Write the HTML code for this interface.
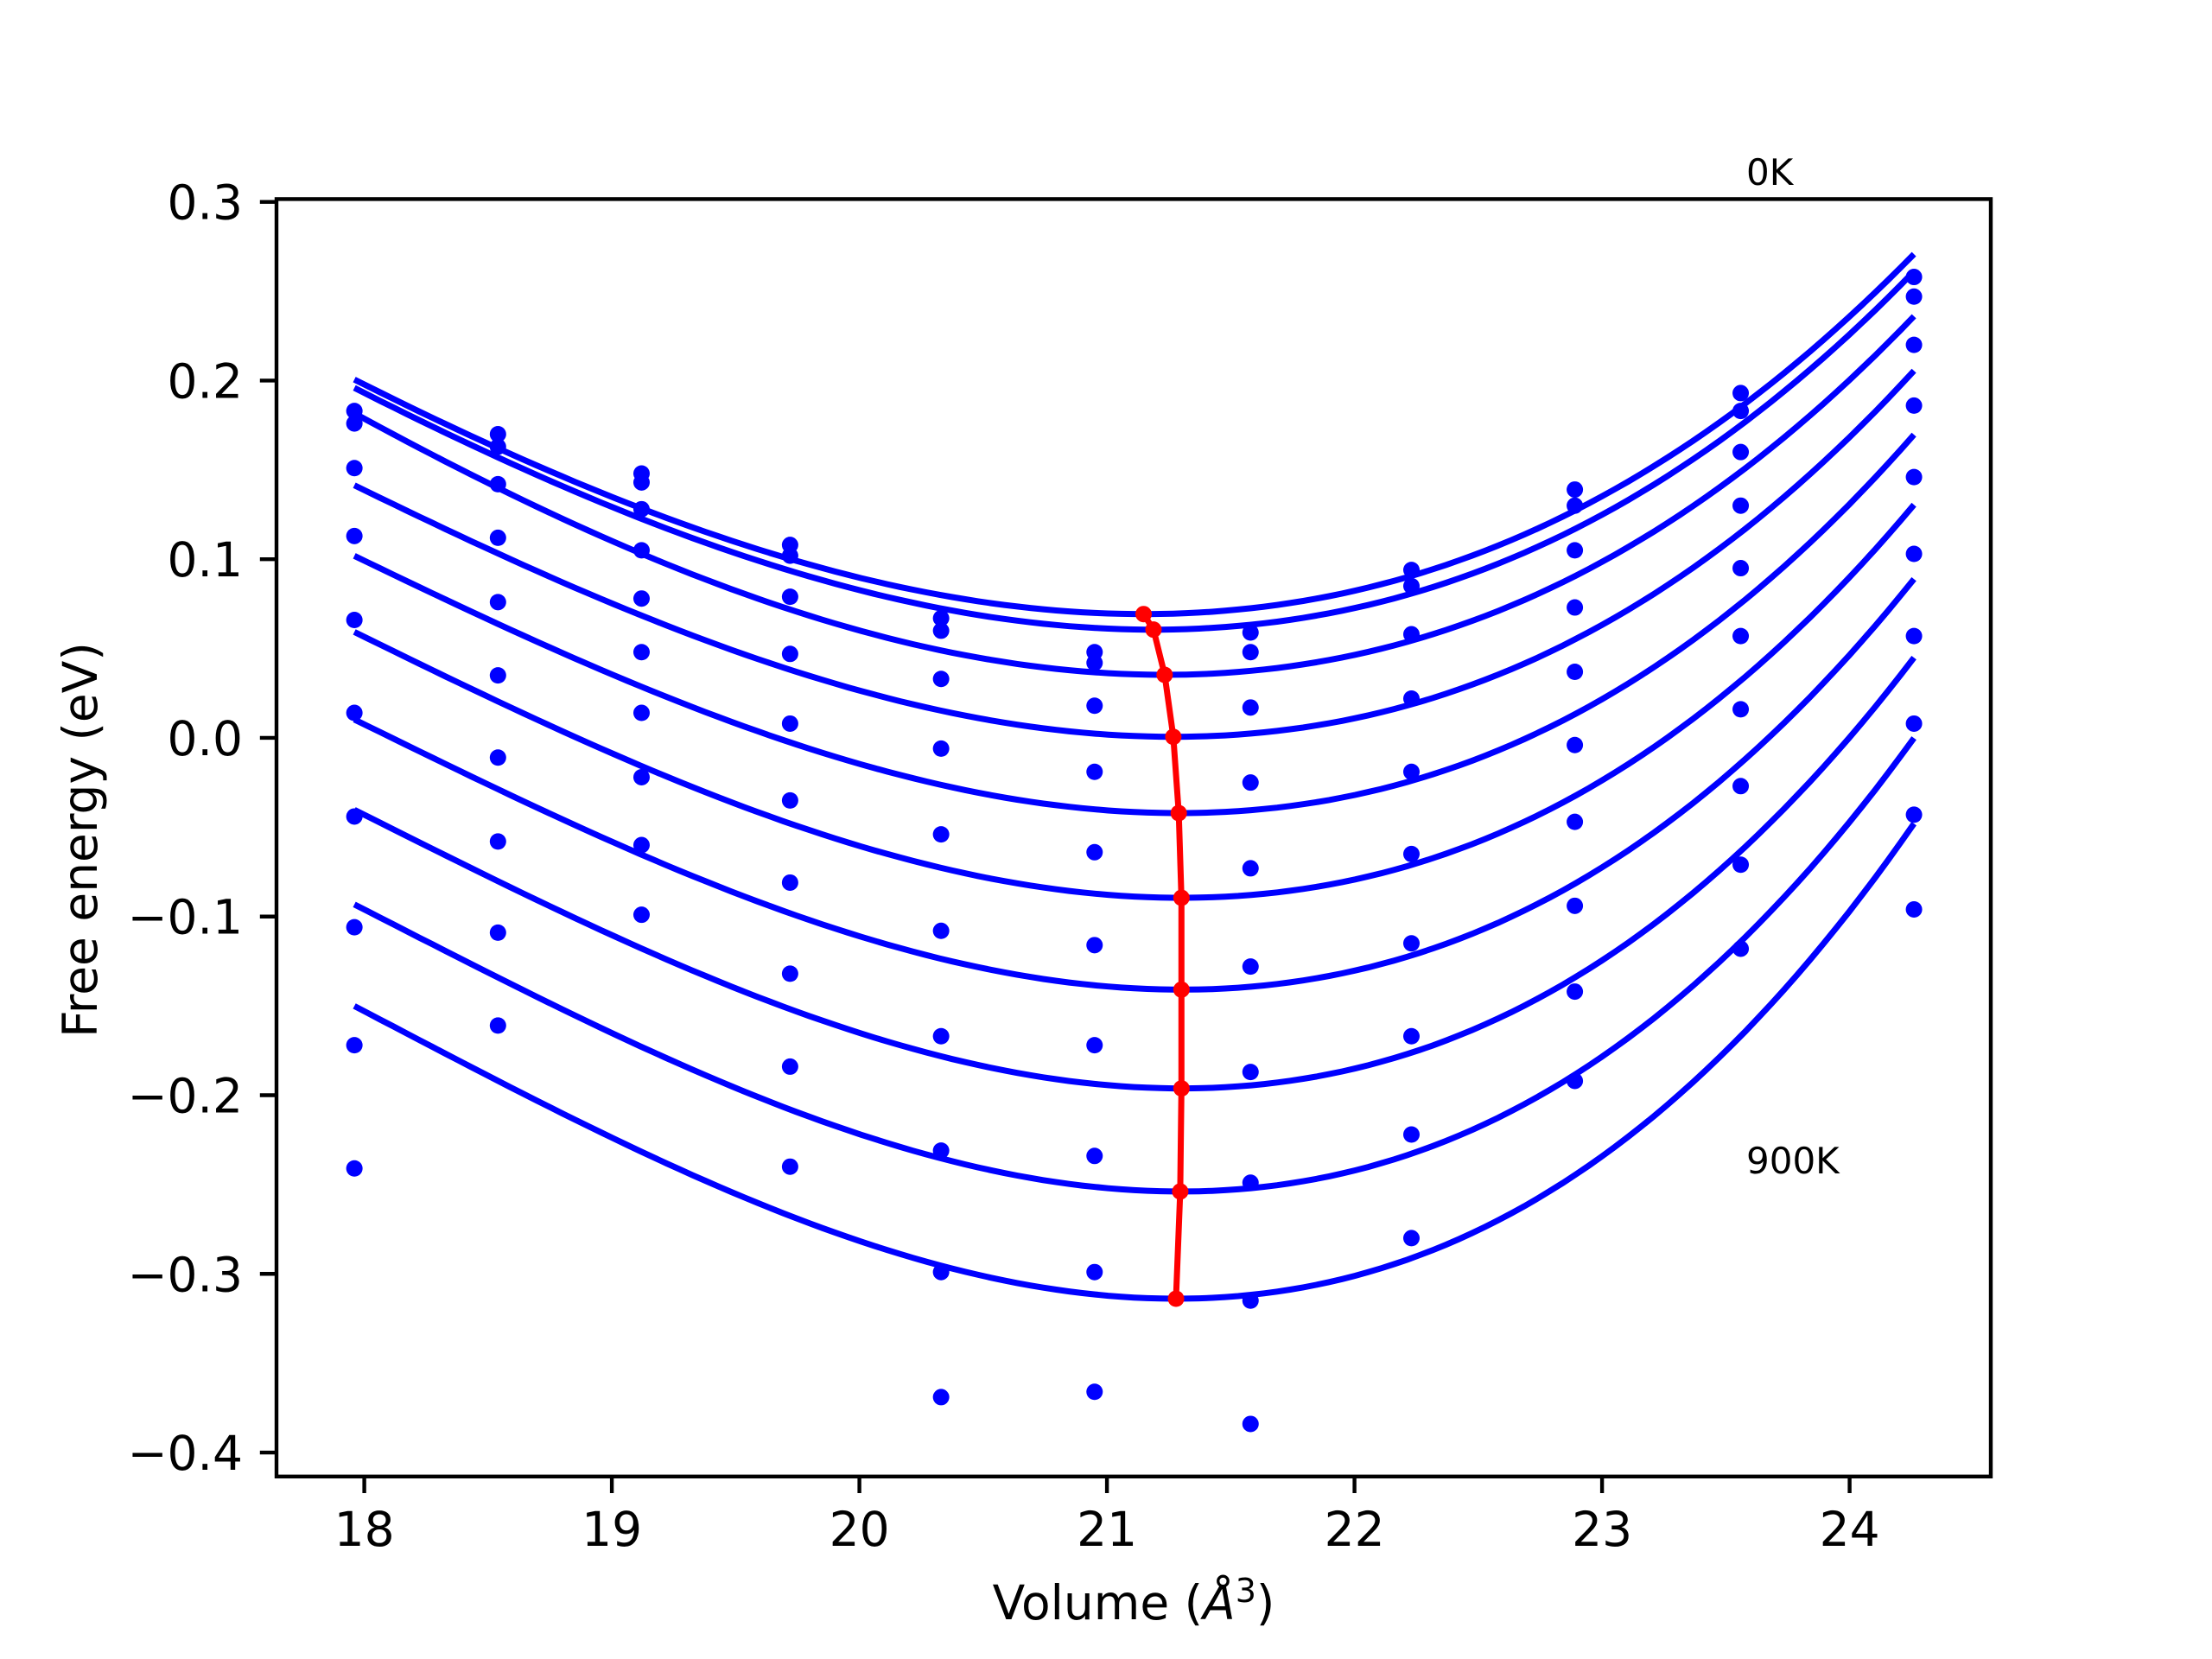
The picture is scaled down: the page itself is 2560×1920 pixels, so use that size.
<!DOCTYPE html>
<html><head><meta charset="utf-8"><style>
html,body{margin:0;padding:0;background:#fff}
svg{display:block}
text{font-family:"DejaVu Sans","Liberation Sans",sans-serif;fill:#000}
</style></head><body>
<svg id="chart" width="2560" height="1920" viewBox="0 0 2560 1920" xmlns="http://www.w3.org/2000/svg">
<rect width="2560" height="1920" fill="#fff"/>
<g id="plot"></g>
<rect x="320" y="230.4" width="1984" height="1478.4" fill="none" stroke="#000" stroke-width="4.4"/>
<g id="ticks"></g>
<text x="2021" y="214" font-size="42">0K</text>
<text x="2021" y="1358" font-size="42">900K</text>
<text x="1312" y="1874" font-size="55" text-anchor="middle">Volume (<tspan font-style="italic">Å</tspan><tspan font-size="38" dy="-20">3</tspan><tspan dy="20">)</tspan></text>
<text x="0" y="0" font-size="55" text-anchor="middle" transform="translate(112,972) rotate(-90)">Free energy (eV)</text>
</svg>
<script>
const volumes = [17.96, 18.54, 19.12, 19.72, 20.33, 20.95, 21.58, 22.23, 22.89, 23.56, 24.26];
const pointsByVolume = [
 [0.183,0.176,0.151,0.113,0.066,0.014,-0.044,-0.106,-0.172,-0.241],
 [0.170,0.163,0.142,0.112,0.076,0.035,-0.011,-0.058,-0.109,-0.161],
 [0.148,0.143,0.128,0.105,0.078,0.048,0.014,-0.022,-0.060,-0.099],
 [0.108,0.102,0.079,0.047,0.008,-0.035,-0.081,-0.132,-0.184,-0.240],
 [0.067,0.060,0.033,-0.006,-0.054,-0.108,-0.167,-0.231,-0.299,-0.369],
 [0.048,0.042,0.018,-0.019,-0.064,-0.116,-0.172,-0.234,-0.299,-0.366],
 [0.059,0.048,0.017,-0.025,-0.073,-0.128,-0.187,-0.249,-0.315,-0.384],
 [0.094,0.085,0.058,0.022,-0.019,-0.065,-0.115,-0.167,-0.222,-0.280],
 [0.139,0.130,0.105,0.073,0.037,-0.004,-0.047,-0.094,-0.142,-0.192],
 [0.193,0.183,0.160,0.130,0.095,0.057,0.016,-0.027,-0.071,-0.118],
 [0.258,0.247,0.220,0.186,0.146,0.103,0.057,0.008,-0.043,-0.096]
];
const minVolumes = [21.148,21.188,21.233,21.268,21.290,21.301,21.301,21.301,21.296,21.279];
const minEnergies = [0.0693,0.0606,0.0353,0.0006,-0.0421,-0.0895,-0.1409,-0.1962,-0.2539,-0.3139];
const curveLeftEnergies = [0.2006,0.1959,0.1817,0.1414,0.1019,0.0593,0.0103,-0.0403,-0.0932,-0.1501];
const curveRightEnergies = [0.2708,0.2611,0.2360,0.2055,0.1697,0.1305,0.0889,0.0449,-0.0001,-0.0480];
const curveRange = [17.96, 24.26];
const xTicks = [18,19,20,21,22,23,24];
const yTicks = [0.3,0.2,0.1,0.0,-0.1,-0.2,-0.3,-0.4];
const yTickLabels = ["0.3","0.2","0.1","0.0","\u22120.1","\u22120.2","\u22120.3","\u22120.4"];

const NS = "http://www.w3.org/2000/svg";
const xs = v => 421.6 + (v - 18) * 286.5;
const ys = e => 233.7 + (0.3 - e) * 2067.6;
const plot = document.getElementById('plot');
const ticks = document.getElementById('ticks');
function mk(tag, attrs, parent){const el=document.createElementNS(NS,tag);for(const k in attrs)el.setAttribute(k,attrs[k]);parent.appendChild(el);return el;}

for (let i = 0; i < minVolumes.length; i++) {
  const v0 = minVolumes[i], e0 = minEnergies[i];
  const dl = curveRange[0] - v0, dr = curveRange[1] - v0;
  const yl = curveLeftEnergies[i] - e0, yr = curveRightEnergies[i] - e0;
  const b = (yl / (dl*dl) - yr / (dr*dr)) / (dl - dr);
  const a = yl / (dl*dl) - b * dl;
  let d = "";
  const n = 120;
  for (let k = 0; k <= n; k++) {
    const v = curveRange[0] + (curveRange[1]-curveRange[0]) * k / n;
    const t = v - v0;
    const e = e0 + a*t*t + b*t*t*t;
    d += (k ? "L" : "M") + xs(v).toFixed(1) + "," + ys(e).toFixed(1);
  }
  const p = mk('path', {d: d, fill: 'none', stroke: '#0000ff', 'stroke-width': 7}, plot);
  
  
}
for (let j = 0; j < volumes.length; j++) {
  for (let i = 0; i < pointsByVolume[j].length; i++) {
    const c = mk('circle', {cx: xs(volumes[j]), cy: ys(pointsByVolume[j][i]), r: 9.5, fill: '#0000ff'}, plot);
    
    
  }
}
let md = "";
for (let i = 0; i < minVolumes.length; i++) md += (i ? "L" : "M") + xs(minVolumes[i]).toFixed(1) + "," + ys(minEnergies[i]).toFixed(1);
const ml = mk('path', {d: md, fill: 'none', stroke: '#ff0000', 'stroke-width': 7, 'stroke-linejoin': 'round'}, plot);


for (let i = 0; i < minVolumes.length; i++) {
  const c = mk('circle', {cx: xs(minVolumes[i]), cy: ys(minEnergies[i]), r: 9.5, fill: '#ff0000'}, plot);
  
  
}
xTicks.forEach(t => {
  const x = xs(t);
  const l = mk('line', {x1: x, x2: x, y1: 1708.8, y2: 1728, stroke: '#000', 'stroke-width': 4.4}, ticks);
  
  
  const tx = mk('text', {x: x, y: 1789, 'font-size': 55, 'text-anchor': 'middle'}, ticks);
  tx.textContent = String(t);
  
  
});
yTicks.forEach((t, i) => {
  const y = ys(t);
  const l = mk('line', {x1: 300.8, x2: 320, y1: y, y2: y, stroke: '#000', 'stroke-width': 4.4}, ticks);
  
  
  const tx = mk('text', {x: 281, y: y + 20, 'font-size': 55, 'text-anchor': 'end'}, ticks);
  tx.textContent = yTickLabels[i];
  
  
});
</script>
</body></html>
